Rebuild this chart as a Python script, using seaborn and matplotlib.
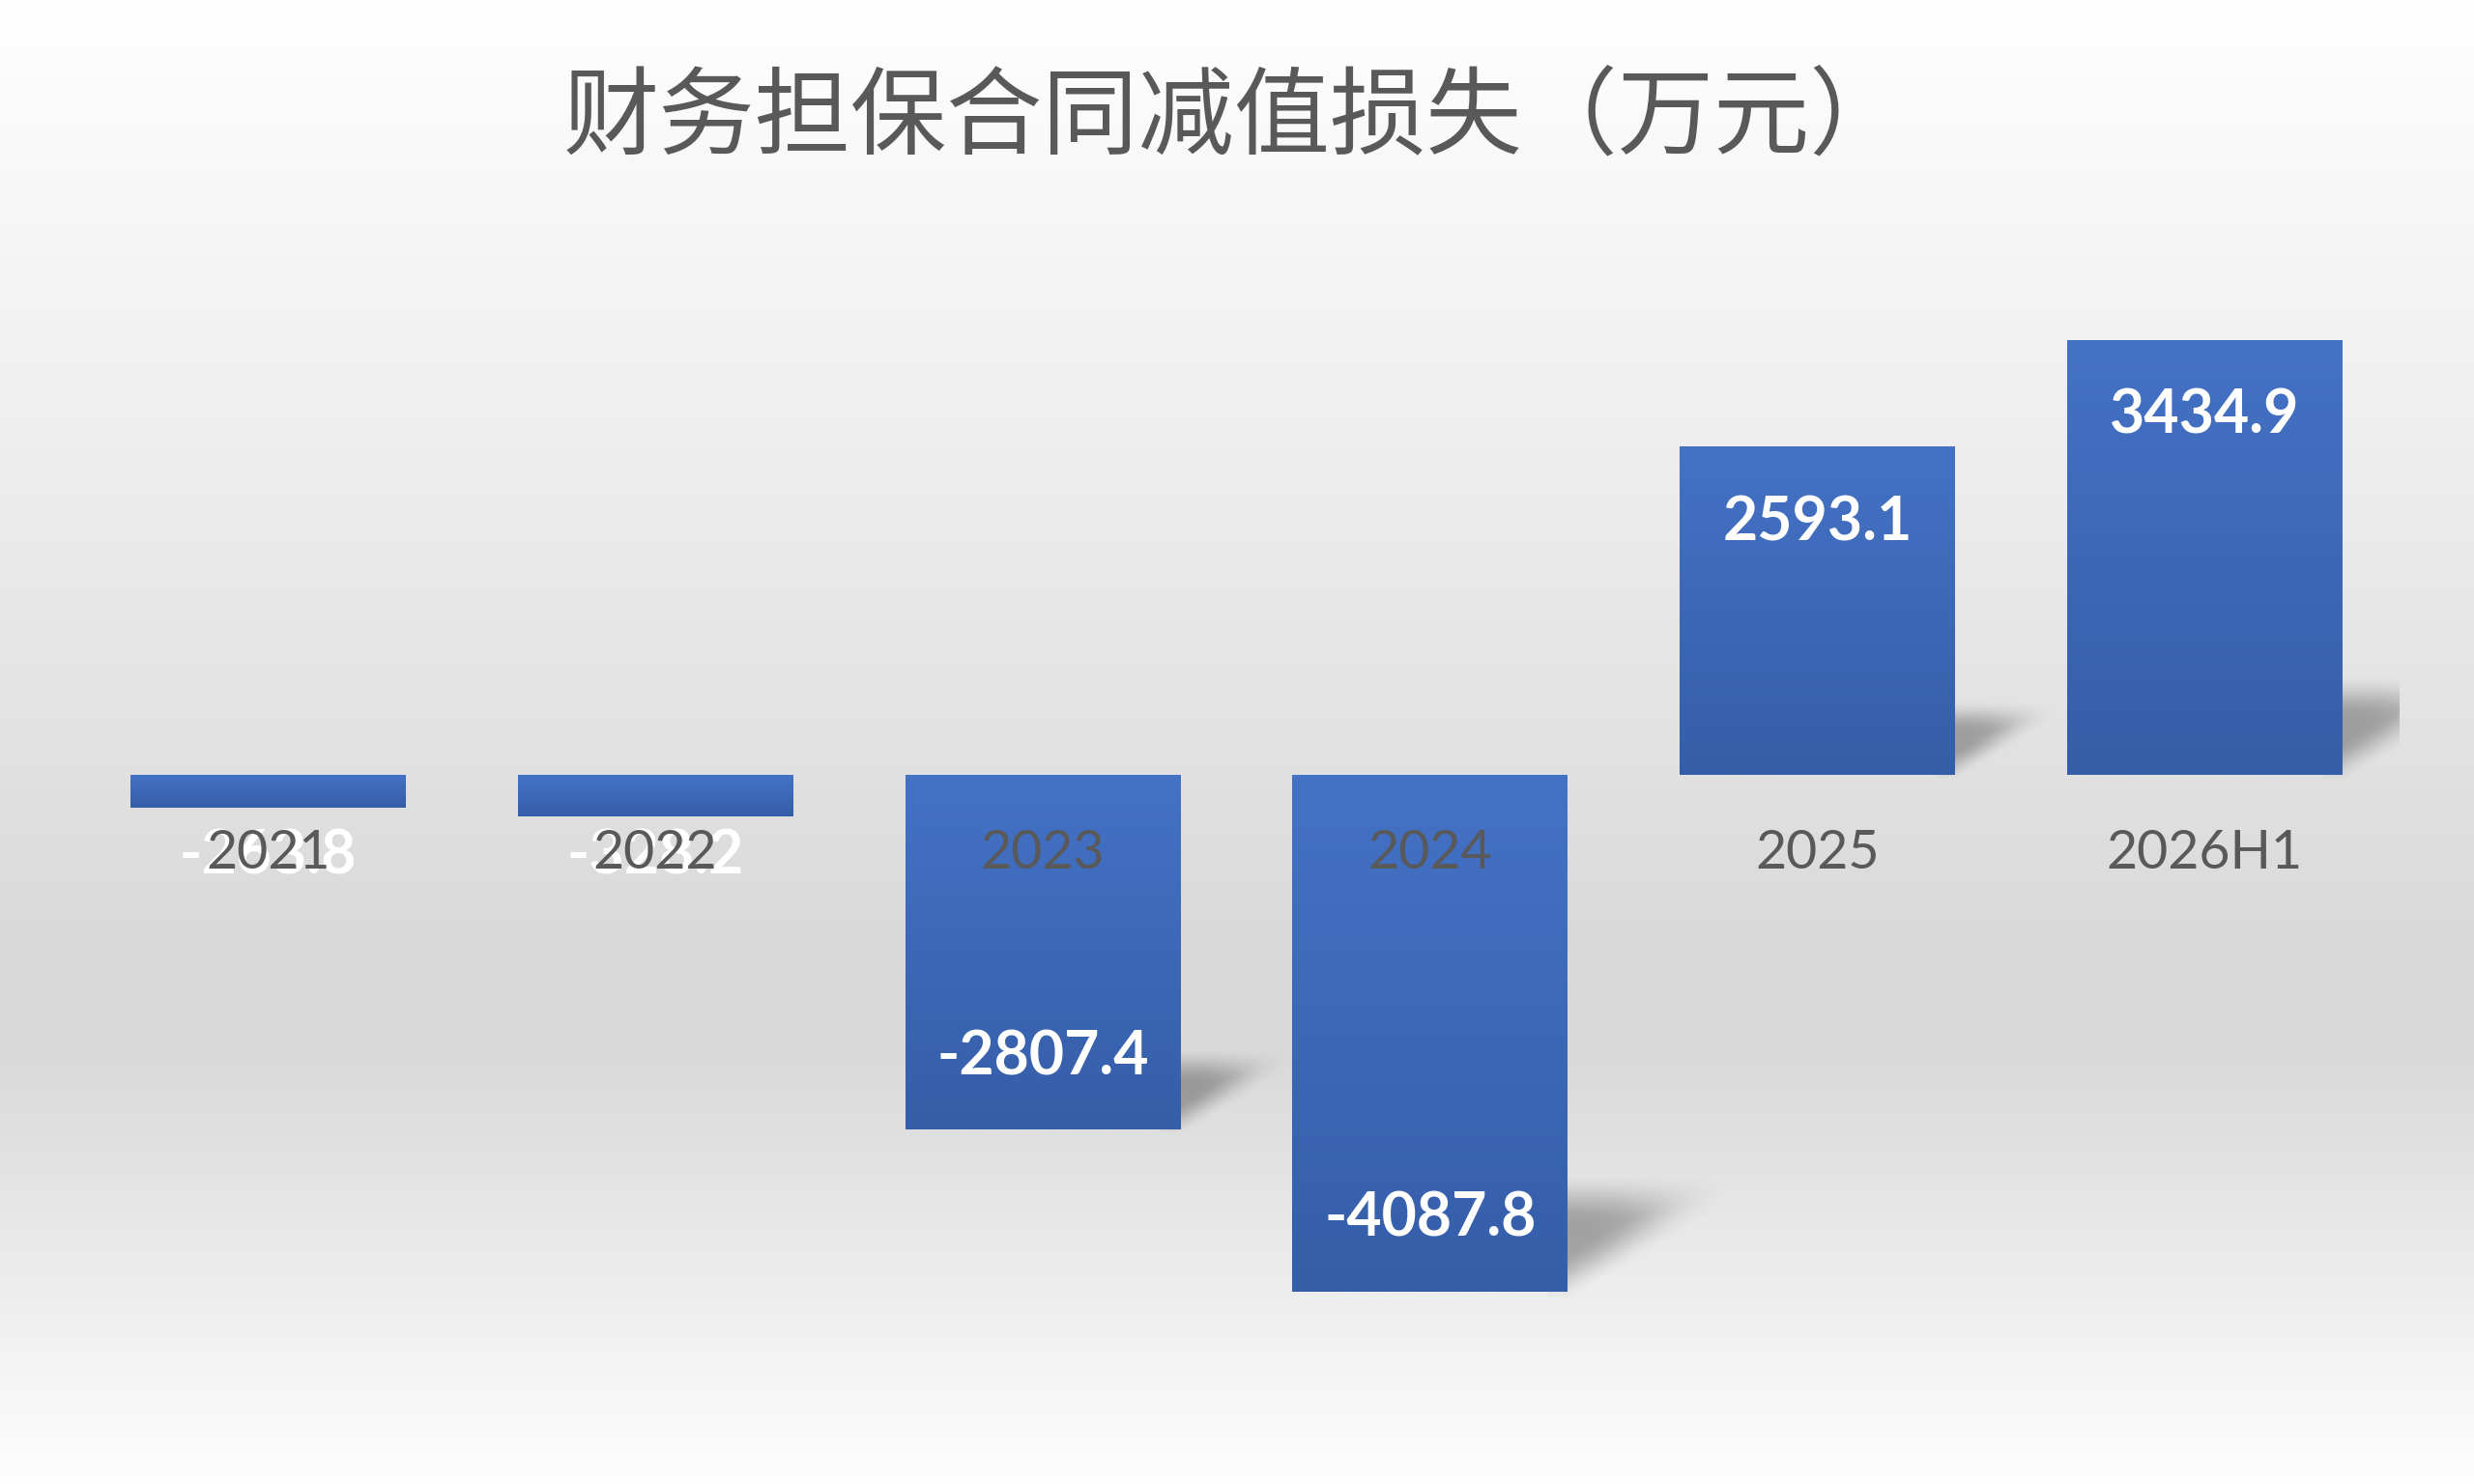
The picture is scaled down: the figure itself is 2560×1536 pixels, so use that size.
import numpy as np
import pandas as pd
import matplotlib
matplotlib.use("Agg")
import matplotlib.pyplot as plt
import seaborn as sns

# ---- data ----
categories = ["2021", "2022", "2023", "2024", "2025", "2026H1"]
values = [-263.8, -328.2, -2807.4, -4087.8, 2593.1, 3434.9]
value_labels = ["-263.8", "-328.2", "-2807.4", "-4087.8", "2593.1", "3434.9"]
title = "财务担保合同减值损失（万元）"

sns.set_theme(style="white")
plt.rcParams["font.family"] = ["Noto Sans CJK SC", "DejaVu Sans"]

fig = plt.figure(figsize=(25.6, 15.36), dpi=100)

# ---- background gradient (figure level) ----
bg = fig.add_axes([0, 0, 1, 1], zorder=0)
stops = [0.0, 0.08, 0.30, 0.50, 0.64, 0.72, 0.86, 1.0]
levels = [255, 250, 238, 226, 217, 218, 236, 254]
rows = np.linspace(0, 1, 400)
g = np.interp(rows, stops, levels) / 255.0
bg_img = np.repeat(g[:, None, None], 3, axis=2)
bg.imshow(bg_img, extent=[0, 1, 0, 1], aspect="auto", origin="upper",
          interpolation="bilinear")
bg.set_axis_off()

# ---- main axes ----
ax = fig.add_axes([0.030, 0.0434, 0.9395, 0.7866], zorder=1)
ax.patch.set_alpha(0)

df = pd.DataFrame({"cat": categories, "val": values})
sns.barplot(data=df, x="cat", y="val", ax=ax, color="#4472c4",
            width=0.71, saturation=1, errorbar=None)

top_c = np.array([68, 114, 197]) / 255.0
bot_c = np.array([53, 94, 168]) / 255.0
t = np.linspace(0, 1, 128)[:, None]
bar_grad = (top_c[None, :] * (1 - t) + bot_c[None, :] * t)[:, None, :]


def ss(z):
    z = np.clip(z, 0, 1)
    return z * z * (3 - 2 * z)


for p, v in zip(ax.patches, values):
    p.set_linewidth(0)
    x0, y0 = p.get_x(), p.get_y()
    w, h = p.get_width(), p.get_height()
    ylo, yhi = min(y0, y0 + h), max(y0, y0 + h)
    im = ax.imshow(bar_grad, extent=[x0, x0 + w, ylo, yhi], aspect="auto",
                   origin="upper", interpolation="bilinear", zorder=2)
    im.set_clip_path(p)
    p.set_zorder(1.9)

    # soft perspective shadow at the lower end of the bar
    if abs(v) > 1000:
        xr = x0 + w
        base = min(0.0, v)
        L = 0.00011 * abs(v)
        sh = 0.22 * abs(v)
        nx, ny = 240, 240
        xs = np.linspace(xr - 0.05, xr + L * 1.4, nx)
        ys = np.linspace(base - 0.3 * sh, base + 1.4 * sh, ny)
        X, Y = np.meshgrid(xs, ys)
        u = (X - xr) / L
        wv = (Y - base) / sh
        a = ss((wv - 0.90 * np.clip(u, 0, None) + 0.10) / 0.45) \
            * ss((1.05 - wv) / 0.45) * ss((1.1 - u) / 1.0)
        a = 0.30 * a
        rgba = np.zeros((ny, nx, 4))
        rgba[..., 3] = a
        ax.imshow(rgba, extent=[xs[0], xs[-1], ys[0], ys[-1]], aspect="auto",
                  origin="lower", interpolation="bilinear", zorder=1.5)

# ---- value labels ----
for i, (v, lab) in enumerate(zip(values, value_labels)):
    if abs(v) > 1000:
        anchor = v
        off = -57 if v > 0 else 54
    else:
        anchor = 0
        off = -61
    ax.annotate(lab, xy=(i, anchor), xytext=(0, off), textcoords="offset points",
                ha="center", va="center", fontsize=45, fontweight="bold",
                color="white", family=["Lato", "DejaVu Sans"], zorder=5)

# ---- axes styling ----
ax.set_xlim(-0.5, 5.5)
ax.set_ylim(-5100, 4127)
ax.set_yticks([])
ax.set_xlabel("")
ax.set_ylabel("")
for s in ax.spines.values():
    s.set_visible(False)
ax.spines["bottom"].set_position(("data", 0))
ax.tick_params(axis="x", length=0, pad=41, labelsize=40, labelcolor="#595959")
for tl in ax.get_xticklabels():
    tl.set_fontfamily(["Lato", "DejaVu Sans"])
ax.xaxis.set_zorder(10)

# ---- title ----
fig.text(0.4990, 1 - 123 / 1536, title, ha="center", va="center",
         fontsize=71.5, color="#595959", fontweight="light")

fig.savefig("out.png", dpi=100)
